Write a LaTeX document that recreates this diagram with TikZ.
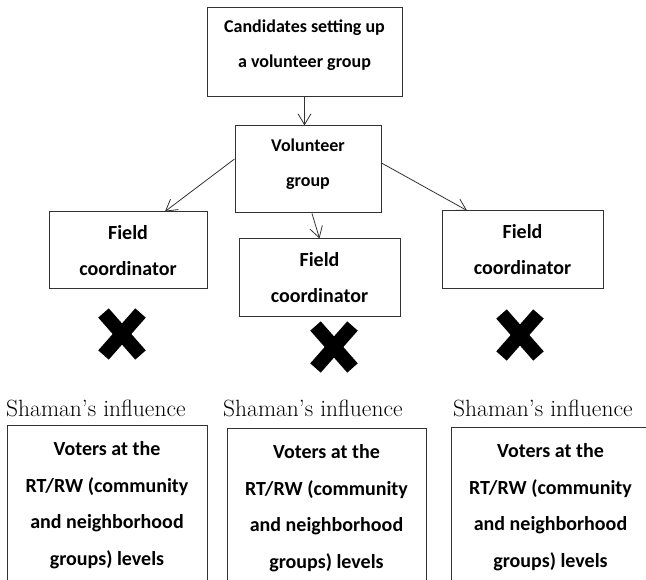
\documentclass[tikz,border=0pt]{standalone}
\usepackage{fontspec}
\newfontfamily\calibri{Carlito}
\usetikzlibrary{arrows.meta, positioning, calc}
\definecolor{boxline}{RGB}{50,50,50}
\tikzstyle{box} = [rectangle, draw=boxline, line width=1pt, align=center, inner sep=0pt, font=\calibri\bfseries\fontsize{18}{35}\selectfont]
\tikzstyle{fieldbox} = [box, minimum width=161pt, minimum height=78pt, font=\calibri\bfseries\fontsize{20}{36}\selectfont]
\tikzstyle{voterbox} = [box, minimum width=200pt, minimum height=160pt, font=\calibri\bfseries\fontsize{20}{36.5}\selectfont]
\tikzstyle{arrow} = [draw=boxline, line width=0.8pt, -{Straight Barb[length=11pt, width=13pt]}]
\tikzstyle{cross} = [line width=14pt, black]
\tikzstyle{influence} = [font=\fontsize{23.5}{26}\selectfont, anchor=base west, inner sep=0pt]

\begin{document}
\begin{tikzpicture}[x=1pt, y=-1pt]
\useasboundingbox (0,0) rectangle (646,580);
\clip (0,0) rectangle (646,580);

% Candidates and volunteer group
\node[box, minimum width=195pt, minimum height=89pt, text depth=18.5pt] (cand) at (304.5,52.5) {Candidates setting up\\a volunteer group};
\node[box, minimum width=146pt, minimum height=87pt, text depth=14.5pt] (vol) at (308,169.5) {Volunteer\\group};

% Field coordinators
\node[fieldbox, minimum width=158pt, minimum height=77pt] (fc1) at (128,250.5) {Field\\coordinator};
\node[fieldbox] (fc2) at (319.5,278) {Field\\coordinator};
\node[fieldbox] (fc3) at (522.5,250) {Field\\coordinator};

% Arrows
\draw[arrow] (cand.south) -- (cand.south |- vol.north);
\draw[arrow] ($(vol.west)+(0,-10.5)$) -- ($(fc1.north)+(37,0)$);
\draw[arrow] ($(vol.south)+(4,0)$) -- (fc2.north);
\draw[arrow] ($(vol.east)+(0,-6.5)$) -- ($(fc3.north)+(-55.5,0)$);

% Crosses
\foreach \cx/\cy in {122/334, 334/347, 520/335}
  \draw[cross] (\cx-18.5,\cy-21) -- (\cx+18.5,\cy+21) (\cx-18.5,\cy+21) -- (\cx+18.5,\cy-21);

% Shaman's influence and voters
\node[influence] (inf1) at (6,417) {Shaman’s influence};
\node[influence] (inf2) at (223,417) {Shaman’s influence};
\node[influence] (inf3) at (453,417) {Shaman’s influence};

\node[voterbox] (vot1) at (107,505) {Voters at the\\RT/RW (community\\and neighborhood\\groups) levels};
\node[voterbox, minimum width=199pt] (vot2) at (326.5,508) {Voters at the\\RT/RW (community\\and neighborhood\\groups) levels};
\node[voterbox, minimum width=199pt] (vot3) at (550.5,507) {Voters at the\\RT/RW (community\\and neighborhood\\groups) levels};

\end{tikzpicture}
\end{document}
